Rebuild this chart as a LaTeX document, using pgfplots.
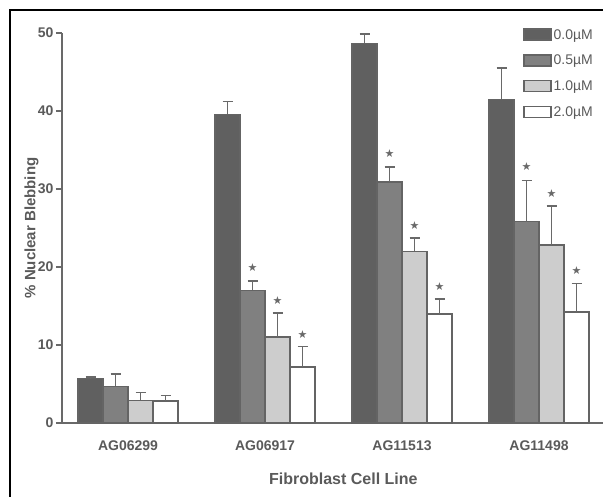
\documentclass[border=0pt]{standalone}
\usepackage{pgfplots}
\pgfplotsset{compat=1.18}
\usepackage{fontspec}
\setmainfont{Liberation Sans}
\newfontfamily\sym{DejaVu Sans}
\definecolor{txt}{RGB}{90,90,90}
\definecolor{axc}{RGB}{105,105,105}
\definecolor{c0}{RGB}{96,96,96}
\definecolor{c1}{RGB}{128,128,128}
\definecolor{c2}{RGB}{205,205,205}
\definecolor{c3}{RGB}{255,255,255}
\definecolor{edge}{RGB}{100,100,100}
\pgfplotsset{common/.style={
  at={(62pt,74pt)}, anchor=south west,
  scale only axis, width=541pt, height=390pt,
  xmin=-0.482, xmax=3.467, ymin=0, ymax=50, clip=false}}
\begin{document}
\begin{tikzpicture}[x=1pt,y=1pt]
\useasboundingbox (0,0) rectangle (603,497);
\draw[line width=2.2pt,black] (10,0) -- (10,487) -- (603,487);
\begin{axis}[
  common,
  ybar=0pt, bar width=25pt,
  axis lines=left, axis line style={axc, line width=1.8pt, -},
  xtick={0,1,2,3},
  xticklabels={AG06299,AG06917,AG11513,AG11498},
  x tick style={draw=none},
  ytick={0,10,20,30,40,50},
  y tick style={axc, line width=1.5pt},
  tick align=outside, major tick length=6pt,
  font=\fontsize{14}{16}\selectfont\color{txt},
  /pgf/number format/assume math mode=true,
  xticklabel style={yshift=-8pt, font=\fontsize{14}{16}\selectfont\bfseries\color{txt}},
  yticklabel style={xshift=1pt, font=\fontsize{14}{16}\selectfont\bfseries\color{txt}},
  xlabel={\bfseries Fibroblast Cell Line},
  xlabel style={at={(axis description cs:0.52,0)}, anchor=north, yshift=-46pt, font=\fontsize{16}{18}\selectfont\color{txt}},
  ylabel={\bfseries \% Nuclear Blebbing},
  ylabel style={at={(axis description cs:0,0.5)}, anchor=south, yshift=20pt, font=\fontsize{15}{17}\selectfont\color{txt}},
  error bars/y dir=plus, error bars/y explicit,
  error bars/error bar style={axc, line width=1.5pt},
  error bars/error mark options={rotate=90, mark size=5pt, line width=1.5pt, axc},
  legend style={at={(0.852,1.015)}, anchor=north west, draw=none, fill=none,
    font=\fontsize{14}{16}\selectfont\color{txt}, row sep=10.5pt, inner sep=0pt},
  legend cell align=left,
  legend image code/.code={\draw[#1, line width=1.5pt] (0pt,-5pt) rectangle (27pt,6pt);},
]
\addplot[fill=c0, draw=edge, line width=1.2pt]
  coordinates {(0,5.7) +- (0,0.2) (1,39.6) +- (0,1.6) (2,48.7) +- (0,1.2) (3,41.5) +- (0,4.0)};
\addplot[fill=c1, draw=edge, line width=1.2pt]
  coordinates {(0,4.7) +- (0,1.6) (1,17.0) +- (0,1.2) (2,30.9) +- (0,1.9) (3,25.8) +- (0,5.3)};
\addplot[fill=c2, draw=edge, line width=1.5pt]
  coordinates {(0,2.9) +- (0,1.0) (1,11.0) +- (0,3.1) (2,22.0) +- (0,1.7) (3,22.8) +- (0,5.0)};
\addplot[fill=c3, draw=edge, line width=1.5pt]
  coordinates {(0,2.8) +- (0,0.7) (1,7.2) +- (0,2.6) (2,14.0) +- (0,1.9) (3,14.2) +- (0,3.7)};
\legend{0.0\textmu M,0.5\textmu M,1.0\textmu M,2.0\textmu M}
\end{axis}
% significance stars (overlay axis with identical geometry)
\begin{axis}[common, hide axis]
\addplot[only marks, mark=text, text mark={\sym\fontsize{11}{11}\selectfont\textcolor{axc}{★}}]
  coordinates {(0.9088,19.9) (1.9088,34.5) (2.9088,32.9)
               (1.0912,15.7) (2.0912,25.3) (3.0912,29.4)
               (1.2737,11.4) (2.2737,17.5) (3.2737,19.5)};
\end{axis}
\end{tikzpicture}
\end{document}
